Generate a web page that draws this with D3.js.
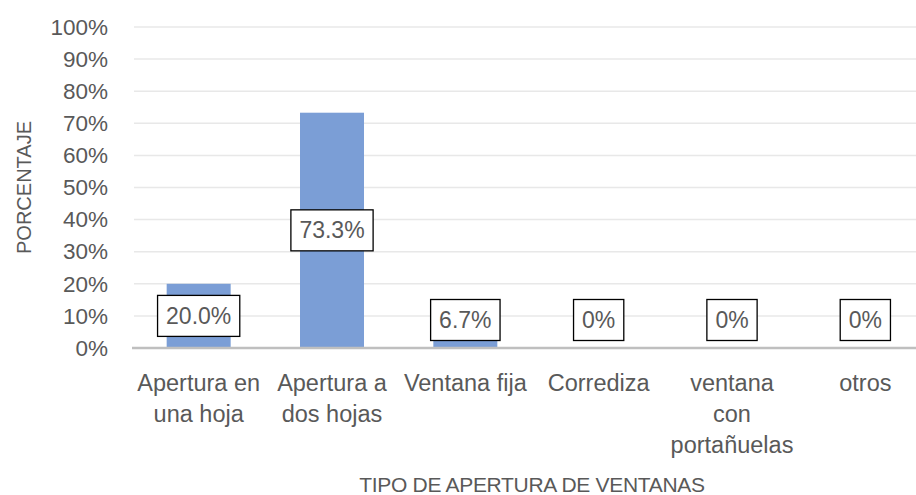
<!DOCTYPE html>
<html>
<head>
<meta charset="utf-8">
<script src="https://cdn.jsdelivr.net/npm/d3@7"></script>
<style>
  html, body { margin: 0; padding: 0; background: #fff; }
  svg { display: block; }
  text { font-family: "Liberation Sans", Arial, sans-serif; fill: #595959; }
</style>
</head>
<body>
<script>
const categories = ["Apertura en\nuna hoja", "Apertura a\ndos hojas", "Ventana fija", "Corrediza", "ventana\ncon\nportañuelas", "otros"];
const values = [0.200, 0.733, 0.067, 0, 0, 0];
const valueLabels = ["20.0%", "73.3%", "6.7%", "0%", "0%", "0%"];
const yTicks = [0, 0.1, 0.2, 0.3, 0.4, 0.5, 0.6, 0.7, 0.8, 0.9, 1.0];
const yTitle = "PORCENTAJE";
const xTitle = "TIPO DE APERTURA DE VENTANAS";

const W = 916, H = 495;
const svg = d3.select("body").append("svg").attr("width", W).attr("height", H);

const x = d3.scaleBand().domain(categories).range([132, 932]).paddingInner(0.52).paddingOuter(0.26);
const y = d3.scaleLinear().domain([0, 1]).range([348, 27]);

// gridlines
svg.append("g").selectAll("line").data(yTicks.filter(d => d > 0)).join("line")
  .attr("x1", 134).attr("x2", W)
  .attr("y1", d => y(d)).attr("y2", d => y(d))
  .attr("stroke", "#e8e8e8").attr("stroke-width", 1.5);

// y axis labels
const yAxis = d3.axisLeft(y).tickValues(yTicks).tickFormat(d3.format(".0%")).tickSize(0).tickPadding(24);
const gy = svg.append("g").attr("transform", "translate(132,0)").call(yAxis);
gy.select(".domain").remove();
gy.selectAll("text").attr("font-size", 22.5).attr("fill", "#595959")
  .style("font-family", "'Liberation Sans', Arial, sans-serif");

// bars
svg.append("g").selectAll("rect").data(values).join("rect")
  .attr("x", (d, i) => x(categories[i]))
  .attr("width", x.bandwidth())
  .attr("y", d => y(d))
  .attr("height", d => y(0) - y(d))
  .attr("fill", "#7b9ed6");

// x axis line
svg.append("line").attr("x1", 132).attr("x2", W).attr("y1", y(0)).attr("y2", y(0))
  .attr("stroke", "#bfbfbf").attr("stroke-width", 2.5);

// x category labels
const gx = svg.append("g");
categories.forEach((c, i) => {
  const t = gx.append("text").attr("text-anchor", "middle").attr("font-size", 23.5)
    .attr("x", x(c) + x.bandwidth() / 2).attr("y", 391);
  c.split("\n").forEach((line, k) => {
    t.append("tspan").attr("x", x(c) + x.bandwidth() / 2).attr("dy", k === 0 ? 0 : 31).text(line);
  });
});

// data labels
const gl = svg.append("g");
values.forEach((v, i) => {
  const cx = x(categories[i]) + x.bandwidth() / 2;
  const cy = Math.min(y(v / 2), y(0) - 28);
  const g = gl.append("g");
  const t = g.append("text").attr("x", cx).attr("y", cy).attr("dy", "0.35em")
    .attr("text-anchor", "middle").attr("font-size", 23).text(valueLabels[i]);
  const bb = t.node().getBBox();
  g.insert("rect", "text")
    .attr("x", cx - bb.width / 2 - 8.5).attr("width", bb.width + 17)
    .attr("y", cy - 20.5).attr("height", 41)
    .attr("fill", "#fff").attr("stroke", "#000").attr("stroke-width", 1.3);
});

// axis titles
svg.append("text").attr("x", (x.range()[0] + x.range()[1]) / 2).attr("y", 492)
  .attr("text-anchor", "middle").attr("font-size", 21).attr("letter-spacing", -0.3).text(xTitle);
svg.append("text").attr("transform", `translate(31,${(y(0) + y(1)) / 2}) rotate(-90)`)
  .attr("text-anchor", "middle").attr("font-size", 20).text(yTitle);
</script>
</body>
</html>
